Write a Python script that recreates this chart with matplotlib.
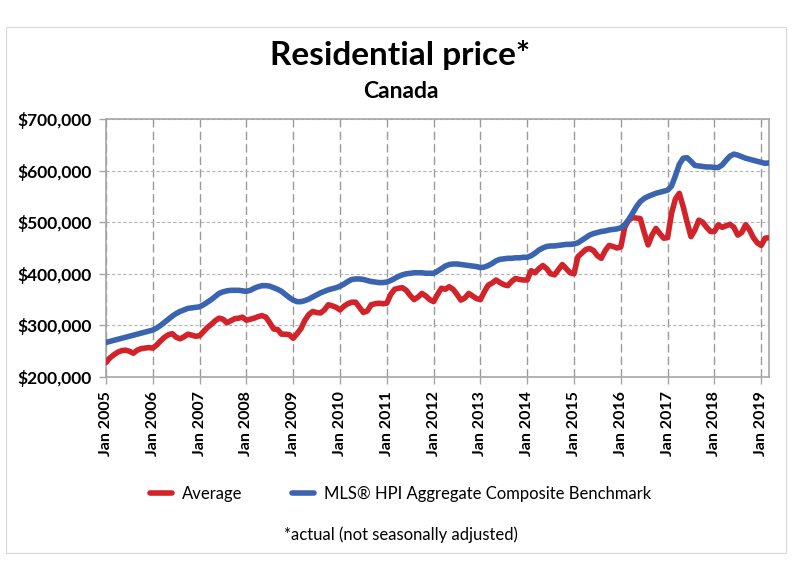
import numpy as np
import matplotlib
matplotlib.use("Agg")
import matplotlib.pyplot as plt
from matplotlib.patches import Rectangle
from matplotlib.ticker import FuncFormatter

# monthly values, Jan 2005 .. Mar 2019, in thousands of dollars
avg_price = [
    228, 237, 243, 248, 251, 252, 250, 246, 252, 255, 256, 257,   # 2005
    256, 262, 270, 277, 282, 284, 277, 274, 278, 283, 281, 279,   # 2006
    280, 288, 296, 302, 309, 314, 312, 305, 309, 313, 314, 316,   # 2007
    310, 312, 314, 317, 319, 316, 305, 293, 292, 283, 283, 282,   # 2008
    275, 284, 294, 310, 321, 327, 325, 324, 330, 340, 338, 335,   # 2009
    330, 337, 342, 345, 345, 335, 325, 328, 340, 342, 343, 342,   # 2010
    343, 360, 370, 372, 373, 368, 358, 350, 355, 362, 357, 350,   # 2011
    346, 360, 372, 370, 375, 370, 360, 349, 353, 362, 357, 352,   # 2012
    350, 365, 378, 382, 388, 383, 379, 377, 385, 391, 389, 388,   # 2013
    388, 406, 402, 410, 416, 410, 400, 398, 408, 418, 410, 402,   # 2014
    400, 433, 440, 447, 449, 445, 435, 430, 445, 455, 453, 450,   # 2015
    452, 490, 504, 509, 508, 507, 480, 456, 475, 488, 478, 469,   # 2016
    470, 517, 545, 556, 530, 500, 472, 485, 504, 500, 490, 482,   # 2017
    482, 495, 490, 493, 496, 490, 475, 480, 495, 485, 470, 460,   # 2018
    455, 469, 470,                                                # 2019
]
hpi_benchmark = [
    267, 269, 271, 273, 275, 277, 279, 281, 283, 285, 287, 289,   # 2005
    291, 295, 300, 306, 312, 318, 323, 327, 330, 333, 334, 335,   # 2006
    336, 340, 345, 350, 356, 362, 365, 367, 368, 368, 368, 367,   # 2007
    366, 368, 372, 375, 377, 377, 376, 373, 370, 366, 360, 354,   # 2008
    349, 346, 346, 348, 351, 355, 359, 363, 366, 369, 371, 373,   # 2009
    376, 380, 385, 389, 390, 390, 389, 387, 385, 384, 383, 383,   # 2010
    384, 387, 391, 395, 398, 400, 401, 402, 402, 402, 401, 401,   # 2011
    401, 405, 410, 415, 418, 419, 419, 418, 417, 416, 415, 414,   # 2012
    412, 413, 416, 420, 425, 428, 429, 430, 430, 431, 431, 432,   # 2013
    432, 435, 440, 446, 450, 453, 454, 454, 455, 456, 457, 457,   # 2014
    458, 460, 465, 470, 475, 478, 480, 482, 483, 485, 486, 487,   # 2015
    489, 495, 505, 517, 530, 540, 546, 550, 553, 556, 558, 560,   # 2016
    562, 570, 590, 612, 624, 625, 618, 610, 609, 608, 607, 607,   # 2017
    606, 606, 611, 620, 628, 632, 630, 627, 624, 622, 620, 618,   # 2018
    616, 614, 615,                                                # 2019
]
years = list(range(2005, 2020))
tick_labels = [f"Jan {y}" for y in years]

RED = "#d2232a"
BLUE = "#3a64b0"
FONT = ["Lato", "DejaVu Sans"]
plt.rcParams["font.family"] = FONT

fig = plt.figure(figsize=(8.01, 5.67), dpi=100)
fig.patches.append(Rectangle((6 / 801, 1 - 553 / 567), 780 / 801, 526 / 567,
                             transform=fig.transFigure, fill=False,
                             edgecolor="#d9d9d9", lw=0.8))
ax = fig.add_axes([106 / 801, 1 - 377 / 567, 663 / 801, 258 / 567])

x = np.arange(len(avg_price))
ax.plot(x, np.array(avg_price) * 1000, color=RED, lw=4.0,
        solid_capstyle="round", solid_joinstyle="round", label="Average", zorder=3)
ax.plot(x, np.array(hpi_benchmark) * 1000, color=BLUE, lw=4.0,
        solid_capstyle="round", solid_joinstyle="round",
        label="MLS® HPI Aggregate Composite Benchmark", zorder=3)

ax.set_xlim(0, len(avg_price) - 1)
ax.set_ylim(200000, 700000)
ax.set_yticks(np.arange(200000, 700001, 100000))
ax.yaxis.set_major_formatter(FuncFormatter(lambda v, p: f"${v:,.0f}"))
ax.set_xticks([12 * i for i in range(len(years))])
ax.set_xticklabels(tick_labels, rotation=90)

for lab in ax.get_yticklabels():
    lab.set_fontweight("bold")
    lab.set_fontsize(12.5)
for lab in ax.get_xticklabels():
    lab.set_fontweight("bold")
    lab.set_fontsize(11.5)

ax.grid(axis="y", color="#b5b5b5", ls=(0, (3, 2)), lw=0.8)
ax.grid(axis="x", color="#9a9a9a", ls=(0, (6, 3)), lw=1.0)
for s in ax.spines.values():
    s.set_color("#a6a6a6")
    s.set_linewidth(1.2)
ax.tick_params(axis="both", color="#a6a6a6", length=5, width=1, pad=5)

fig.text(0.5, 1 - 55 / 567, "Residential price*", ha="center", va="center",
         fontsize=24, fontweight="bold")
fig.text(0.5, 1 - 92 / 567, "Canada", ha="center", va="center",
         fontsize=16.5, fontweight="bold")

fig.legend(loc="center", bbox_to_anchor=(0.5, 1 - 494 / 567), ncol=2,
           frameon=False, fontsize=12, handlelength=1.3, columnspacing=3.0,
           handletextpad=0.6)
fig.text(0.5, 1 - 535 / 567, "*actual (not seasonally adjusted)", ha="center",
         va="center", fontsize=12)

fig.savefig("out.png", dpi=100)
